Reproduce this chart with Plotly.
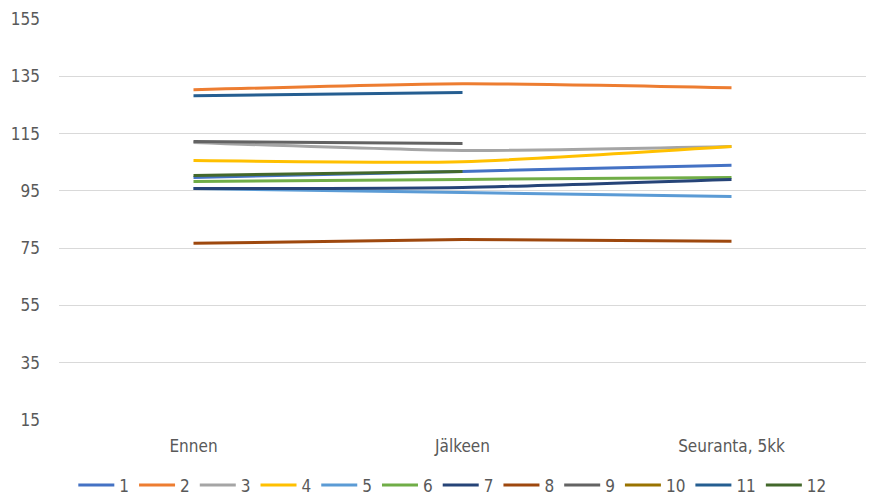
import plotly.graph_objects as go

categories = ["Ennen", "Jälkeen", "Seuranta, 5kk"]
series_names = ["1", "2", "3", "4", "5", "6", "7", "8", "9", "10", "11", "12"]
s1 = [99.7, 101.8, 103.9]
s2 = [130.3, 132.4, 131.0]
s3 = [111.9, 109.1, 110.5]
s4 = [105.6, 105.2, 110.5]
s5 = [95.8, 94.4, 93.0]
s6 = [98.3, 99.0, 99.7]
s7 = [95.8, 96.2, 99.0]
s8 = [76.7, 78.0, 77.4]
s9 = [112.2, 111.5, None]
s10 = [None, None, None]
s11 = [128.2, 129.3, None]
s12 = [100.4, 101.8, None]
series_values = [s1, s2, s3, s4, s5, s6, s7, s8, s9, s10, s11, s12]
colors = ["#4472C4", "#ED7D31", "#A5A5A5", "#FFC000", "#5B9BD5", "#70AD47",
          "#264478", "#9E480E", "#636363", "#997300", "#255E91", "#43682B"]
y_ticks = [15, 35, 55, 75, 95, 115, 135, 155]

FONT = "DejaVu Sans Condensed, sans-serif"

fig = go.Figure()
for name, vals, col in zip(series_names, series_values, colors):
    fig.add_trace(go.Scatter(
        x=categories, y=vals, name=name, mode="lines",
        line=dict(color=col, width=3, shape="spline", smoothing=0.6),
        connectgaps=False,
    ))

fig.update_layout(
    width=869, height=497,
    margin=dict(l=59, r=3, t=19, b=77, autoexpand=False),
    paper_bgcolor="white", plot_bgcolor="white",
    font=dict(family=FONT, size=17, color="#595959"),
    showlegend=True,
    legend=dict(orientation="h", x=0.488, xanchor="center", y=-0.163, yanchor="middle",
                font=dict(size=17, color="#595959"), itemwidth=36,
                traceorder="normal", tracegroupgap=0),
    xaxis=dict(type="category", range=[-0.5, 2.5], showgrid=False, zeroline=False,
               showline=False, ticks="", ticklabelstandoff=14,
               tickfont=dict(size=17, color="#595959")),
    yaxis=dict(range=[15, 155], tickvals=y_ticks, showgrid=True, gridcolor="#D9D9D9",
               gridwidth=1, zeroline=False, showline=False, ticks="",
               ticklabelstandoff=18, tickfont=dict(size=17, color="#595959")),
)

fig.write_html("out.html")
